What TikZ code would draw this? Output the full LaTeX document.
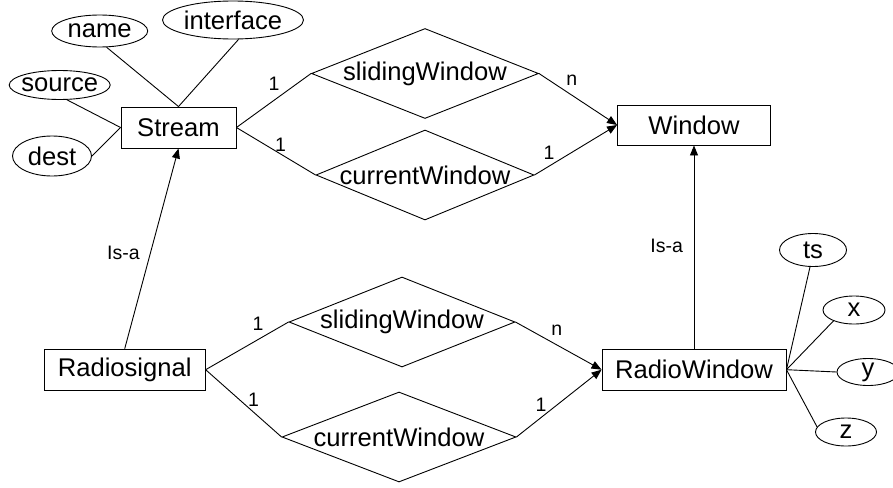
\documentclass[tikz,border=0pt]{standalone}
\usepackage{fontspec}
\setmainfont{Liberation Sans}
\usetikzlibrary{shapes.geometric,arrows.meta}
\tikzset{
  base/.style={draw=black, line width=0.9pt, inner sep=0pt, font=\fontsize{25.6}{30}\selectfont},
  entity/.style={base, rectangle},
  attr/.style={base, ellipse},
  rel/.style={base, diamond},
  lab/.style={inner sep=0pt, font=\fontsize{19.5}{23}\selectfont},
  conn/.style={draw=black, line width=0.9pt},
  arr/.style={conn, -{Triangle[length=10pt,width=8pt]}}
}
\begin{document}
\begin{tikzpicture}[x=1pt,y=-1pt]
\useasboundingbox (0,0) rectangle (893,487);
% entities
\node[entity, minimum width=115, minimum height=41] (stream) at (178.5,127.5) {Stream};
\node[entity, minimum width=153, minimum height=40] (window) at (694,125) {Window};
\node[entity, minimum width=161, minimum height=41] (rs) at (124.7,369.7) {Radiosignal};
\node[entity, minimum width=184, minimum height=41] (rw) at (694,369.7) {RadioWindow};
% attributes
\node[attr, minimum width=96, minimum height=32] (name) at (99.7,31) {\makebox[0pt]{name}};
\node[attr, minimum width=141, minimum height=38] (iface) at (233,20) {\makebox[0pt]{interface}};
\node[attr, minimum width=101, minimum height=29] (source) at (59.7,85) {\makebox[0pt]{source}};
\node[attr, minimum width=79, minimum height=40] (dest) at (52,156) {\makebox[0pt]{dest}};
\node[attr, minimum width=67, minimum height=33] (ts) at (813,250) {\makebox[0pt]{ts}};
\node[attr, minimum width=62, minimum height=28] (ax) at (854,310) {\makebox[0pt]{x}};
\node[attr, minimum width=62, minimum height=27] (ay) at (868,372) {\makebox[0pt]{y}};
\node[attr, minimum width=61, minimum height=28] (az) at (846,432) {\makebox[0pt]{z}};
% relationships
\node[rel, minimum width=227, minimum height=90] (sw1) at (425,73.5) {\makebox[0pt]{slidingWindow}};
\node[rel, minimum width=218, minimum height=90] (cw1) at (425,175) {\makebox[0pt]{currentWindow}};
\node[rel, minimum width=226, minimum height=90] (sw2) at (402,322) {\makebox[0pt]{slidingWindow}};
\node[rel, minimum width=234, minimum height=90] (cw2) at (399,437) {\makebox[0pt]{currentWindow}};
% attribute links
\draw[conn] (name.-67) -- (stream.north);
\draw[conn] (iface.-74) -- (stream.north);
\draw[conn] (source.-64) -- (stream.west);
\draw[conn] (dest.east) -- (stream.west);
\draw[conn] (ts.-100) -- (rw.east);
\draw[conn] (ax.-152) -- (rw.east);
\draw[conn] (ay.west) -- (rw.east);
\draw[conn] (az.170) -- (rw.east);
% relationship links
\draw[conn] (stream.east) -- (sw1.west) node[lab] at (274,84) {1};
\draw[conn] (stream.east) -- (cw1.west) node[lab] at (280.5,145) {1};
\draw[arr] (sw1.east) -- (window.west) node[lab] at (571.7,80) {n};
\draw[arr] (cw1.east) -- (window.west) node[lab] at (549,153) {1};
\draw[conn] (rs.east) -- (sw2.west) node[lab] at (258,323.3) {1};
\draw[conn] (rs.east) -- (cw2.west) node[lab] at (253.5,400) {1};
\draw[arr] (sw2.east) -- (rw.west) node[lab] at (556.7,330) {n};
\draw[arr] (cw2.east) -- (rw.west) node[lab] at (541,405) {1};
% is-a
\draw[arr] (rs.north) -- (stream.south) node[lab] at (123.5,253.3) {Is-a};
\draw[arr] (rw.north) -- (window.south) node[lab] at (666.7,246) {Is-a};
\end{tikzpicture}
\end{document}
